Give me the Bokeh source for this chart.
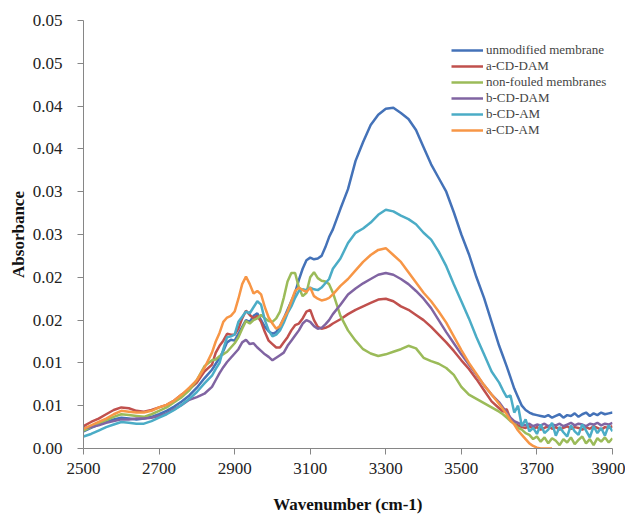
from bokeh.plotting import figure
from bokeh.models import FixedTicker, Legend, LegendItem
from bokeh.embed import file_html
from bokeh.resources import INLINE

wavenumber = [
    2500, 2520, 2540, 2560, 2580, 2600, 2620, 2640, 2660, 2680, 2700, 2720, 2740, 2760, 2780, 2800, 2820,
    2840, 2850, 2860, 2870, 2880, 2890, 2900, 2910, 2920, 2930, 2940, 2950, 2960, 2970, 2980, 2990, 3000,
    3010, 3020, 3030, 3040, 3050, 3060, 3070, 3080, 3090, 3100, 3110, 3120, 3130, 3140, 3150, 3160,
    3180, 3200, 3220, 3240, 3260, 3280, 3300, 3320, 3340, 3360, 3380, 3400, 3420, 3440, 3460, 3480, 3500,
    3520, 3540, 3560, 3580,
    3600, 3610, 3620, 3630, 3640, 3650, 3660, 3670, 3680, 3690, 3700, 3710, 3720, 3730, 3740, 3750, 3760,
    3770, 3780, 3790, 3800, 3810, 3820, 3830, 3840, 3850, 3860, 3870, 3880, 3890, 3900,
]

unmodified_membrane = [
    0.0020, 0.0024, 0.0028, 0.0031, 0.0034, 0.0036, 0.0035, 0.0034, 0.0035, 0.0037, 0.0040, 0.0044, 0.0049, 0.0055, 0.0062, 0.0071, 0.0082,
    0.0092, 0.0099, 0.0106, 0.0114, 0.0124, 0.0127, 0.0126, 0.0134, 0.0142, 0.0150, 0.0148, 0.0155, 0.0158, 0.0150, 0.0142, 0.0137, 0.0134,
    0.0136, 0.0143, 0.0152, 0.0162, 0.0172, 0.0182, 0.0197, 0.0210, 0.0220, 0.0223, 0.0221, 0.0222, 0.0225, 0.0235, 0.0247, 0.0256,
    0.0280, 0.0303, 0.0336, 0.0358, 0.0378, 0.0390, 0.0397, 0.0398, 0.0392, 0.0385, 0.0372, 0.0352, 0.0332, 0.0316, 0.0300, 0.0276, 0.0250,
    0.0227, 0.0200, 0.0176, 0.0148,
    0.0120, 0.0108, 0.0096, 0.0083, 0.0070, 0.0060, 0.0050, 0.0045, 0.0042, 0.0040, 0.0039, 0.0038, 0.0037, 0.0039, 0.0036, 0.0038, 0.0040,
    0.0036, 0.0039, 0.0038, 0.0041, 0.0037, 0.0040, 0.0042, 0.0038, 0.0041, 0.0039, 0.0042, 0.0040, 0.0041, 0.0042,
]

a_cd_dam = [
    0.0026, 0.0031, 0.0035, 0.0040, 0.0045, 0.0048, 0.0047, 0.0044, 0.0043, 0.0045, 0.0048, 0.0051, 0.0056, 0.0063, 0.0069, 0.0077, 0.0090,
    0.0098, 0.0112, 0.0120, 0.0126, 0.0134, 0.0133, 0.0133, 0.0140, 0.0152, 0.0161, 0.0156, 0.0152, 0.0155, 0.0148, 0.0136, 0.0126, 0.0122,
    0.0118, 0.0118, 0.0124, 0.0130, 0.0138, 0.0144, 0.0146, 0.0152, 0.0160, 0.0162, 0.0150, 0.0142, 0.0140, 0.0141, 0.0143, 0.0146,
    0.0151, 0.0157, 0.0162, 0.0166, 0.0170, 0.0174, 0.0175, 0.0172, 0.0166, 0.0162, 0.0156, 0.0150, 0.0142, 0.0133, 0.0124, 0.0114, 0.0103,
    0.0093, 0.0081, 0.0068, 0.0055,
    0.0047, 0.0043, 0.0046, 0.0034, 0.0029, 0.0027, 0.0025, 0.0024, 0.0026, 0.0023, 0.0025, 0.0022, 0.0024, 0.0026, 0.0023, 0.0025, 0.0022,
    0.0024, 0.0026, 0.0023, 0.0025, 0.0024, 0.0022, 0.0025, 0.0023, 0.0026, 0.0024, 0.0022, 0.0025, 0.0024, 0.0026,
]

non_fouled = [
    0.0021, 0.0025, 0.0029, 0.0033, 0.0037, 0.0040, 0.0039, 0.0038, 0.0037, 0.0040, 0.0044, 0.0048, 0.0054, 0.0060, 0.0068, 0.0080, 0.0096,
    0.0103, 0.0104, 0.0108, 0.0110, 0.0113, 0.0118, 0.0123, 0.0130, 0.0140, 0.0149, 0.0146, 0.0150, 0.0152, 0.0156, 0.0152, 0.0149, 0.0148,
    0.0152, 0.0160, 0.0176, 0.0195, 0.0205, 0.0205, 0.0188, 0.0178, 0.0182, 0.0200, 0.0206, 0.0199, 0.0196, 0.0195, 0.0192, 0.0182,
    0.0155, 0.0138, 0.0126, 0.0116, 0.0111, 0.0108, 0.0110, 0.0113, 0.0116, 0.0120, 0.0117, 0.0106, 0.0102, 0.0099, 0.0094, 0.0086, 0.0072,
    0.0063, 0.0058, 0.0053, 0.0048,
    0.0043, 0.0040, 0.0036, 0.0032, 0.0029, 0.0024, 0.0022, 0.0018, 0.0016, 0.0011, 0.0014, 0.0008, 0.0013, 0.0006, 0.0012, 0.0009, 0.0004,
    0.0011, 0.0007, 0.0013, 0.0005, 0.0010, 0.0014, 0.0006, 0.0011, 0.0004, 0.0012, 0.0008, 0.0013, 0.0007, 0.0012,
]

b_cd_dam = [
    0.0024, 0.0025, 0.0027, 0.0030, 0.0032, 0.0034, 0.0034, 0.0035, 0.0035, 0.0036, 0.0038, 0.0041, 0.0046, 0.0051, 0.0057, 0.0060, 0.0064,
    0.0072, 0.0080, 0.0088, 0.0095, 0.0101, 0.0106, 0.0111, 0.0116, 0.0124, 0.0127, 0.0122, 0.0123, 0.0118, 0.0114, 0.0110, 0.0107, 0.0103,
    0.0106, 0.0109, 0.0112, 0.0120, 0.0126, 0.0132, 0.0138, 0.0146, 0.0150, 0.0148, 0.0143, 0.0140, 0.0141, 0.0145, 0.0150, 0.0157,
    0.0168, 0.0180, 0.0187, 0.0193, 0.0198, 0.0203, 0.0205, 0.0203, 0.0198, 0.0192, 0.0184, 0.0175, 0.0164, 0.0150, 0.0136, 0.0123, 0.0110,
    0.0098, 0.0086, 0.0074, 0.0063,
    0.0054, 0.0048, 0.0042, 0.0036, 0.0032, 0.0030, 0.0028, 0.0027, 0.0029, 0.0026, 0.0028, 0.0027, 0.0029, 0.0026, 0.0028, 0.0027, 0.0029,
    0.0026, 0.0028, 0.0030, 0.0027, 0.0029, 0.0028, 0.0026, 0.0029, 0.0028, 0.0030, 0.0027, 0.0029, 0.0028, 0.0030,
]

b_cd_am = [
    0.0014, 0.0017, 0.0021, 0.0025, 0.0028, 0.0031, 0.0030, 0.0029, 0.0029, 0.0032, 0.0036, 0.0040, 0.0045, 0.0051, 0.0058, 0.0066, 0.0076,
    0.0085, 0.0093, 0.0100, 0.0116, 0.0130, 0.0131, 0.0133, 0.0148, 0.0154, 0.0160, 0.0158, 0.0165, 0.0172, 0.0168, 0.0150, 0.0138, 0.0131,
    0.0133, 0.0138, 0.0147, 0.0158, 0.0166, 0.0176, 0.0184, 0.0186, 0.0185, 0.0188, 0.0186, 0.0185, 0.0188, 0.0193, 0.0198, 0.0210,
    0.0222, 0.0240, 0.0252, 0.0257, 0.0264, 0.0273, 0.0279, 0.0277, 0.0272, 0.0268, 0.0262, 0.0252, 0.0244, 0.0230, 0.0213, 0.0192, 0.0172,
    0.0152, 0.0130, 0.0110, 0.0090,
    0.0077, 0.0068, 0.0060, 0.0062, 0.0042, 0.0050, 0.0026, 0.0034, 0.0020, 0.0024, 0.0017, 0.0028, 0.0018, 0.0022, 0.0030, 0.0015, 0.0025,
    0.0019, 0.0014, 0.0027, 0.0020, 0.0016, 0.0028, 0.0021, 0.0013, 0.0026, 0.0018, 0.0024, 0.0015, 0.0027, 0.0020,
]

nan = float("nan")
a_cd_am = [
    0.0023, 0.0027, 0.0031, 0.0035, 0.0040, 0.0044, 0.0043, 0.0042, 0.0042, 0.0044, 0.0048, 0.0051, 0.0056, 0.0063, 0.0071, 0.0080, 0.0094,
    0.0112, 0.0125, 0.0135, 0.0148, 0.0153, 0.0155, 0.0160, 0.0175, 0.0192, 0.0201, 0.0192, 0.0181, 0.0184, 0.0180, 0.0165, 0.0153, 0.0146,
    0.0140, 0.0143, 0.0152, 0.0160, 0.0172, 0.0184, 0.0188, 0.0185, 0.0183, 0.0188, 0.0178, 0.0175, 0.0173, 0.0174, 0.0176, 0.0180,
    0.0190, 0.0198, 0.0208, 0.0218, 0.0226, 0.0232, 0.0234, 0.0226, 0.0218, 0.0206, 0.0194, 0.0182, 0.0172, 0.0160, 0.0147, 0.0131, 0.0115,
    0.0100, 0.0087, 0.0074, 0.0063,
    0.0052, 0.0046, 0.0040, 0.0033, 0.0028, 0.0021, 0.0016, 0.0011, 0.0006, 0.0003, 0.0001, 0.0000, 0.0000, 0.0000, 0.0000, nan, nan,
    nan, nan, nan, nan, nan, nan, nan, nan, nan, nan, nan, nan, nan, nan,
]

series_names = ["unmodified membrane", "a-CD-DAM", "non-fouled membranes", "b-CD-DAM", "b-CD-AM", "a-CD-AM"]
series_values = [unmodified_membrane, a_cd_dam, non_fouled, b_cd_dam, b_cd_am, a_cd_am]
series_colors = ["#4472B8", "#C0504D", "#9BBB59", "#8064A2", "#4BACC6", "#F79646"]

y_ticks = [0.0, 0.005, 0.01, 0.015, 0.02, 0.025, 0.03, 0.035, 0.04, 0.045, 0.05]
y_tick_labels = ["0.00", "0.01", "0.01", "0.02", "0.02", "0.03", "0.03", "0.04", "0.04", "0.05", "0.05"]
x_ticks = [2500, 2700, 2900, 3100, 3300, 3500, 3700, 3900]

FONT = "Liberation Serif"

p = figure(width=625, height=520, output_backend="svg", toolbar_location=None,
           x_range=(2500, 3900), y_range=(0, 0.05),
           min_border_left=83, min_border_right=13, min_border_top=20, min_border_bottom=72)
p.outline_line_color = None
p.grid.visible = False
p.background_fill_color = "white"

items = []
for name, vals, col in zip(series_names, series_values, series_colors):
    r = p.line(wavenumber, vals, line_color=col, line_width=2.5)
    items.append(LegendItem(label=name, renderers=[r]))

for ax in (p.xaxis[0], p.yaxis[0]):
    ax.axis_line_color = "#868686"
    ax.major_tick_line_color = "#868686"
    ax.minor_tick_line_color = None
    ax.major_tick_in = 0
    ax.major_tick_out = 6
    ax.major_label_text_font = FONT
    ax.major_label_text_font_size = "17px"
    ax.major_label_text_color = "#222222"
    ax.axis_label_text_font = FONT
    ax.axis_label_text_font_size = "17px"
    ax.axis_label_text_font_style = "bold"
    ax.axis_label_text_color = "#111111"

p.xaxis[0].ticker = FixedTicker(ticks=x_ticks)
p.xaxis[0].axis_label = "Wavenumber (cm-1)"
p.xaxis[0].major_label_standoff = 8
p.xaxis[0].axis_label_standoff = 18

p.yaxis[0].ticker = FixedTicker(ticks=y_ticks)
p.yaxis[0].major_label_overrides = {t: s for t, s in zip(y_ticks, y_tick_labels)}
p.yaxis[0].axis_label = "Absorbance"
p.yaxis[0].major_label_standoff = 15
p.yaxis[0].axis_label_standoff = 2

legend = Legend(items=items, location=(368, 310), border_line_color=None,
                background_fill_alpha=0, label_text_font=FONT, label_text_font_size="13px",
                label_height=16, glyph_height=16, glyph_width=32, spacing=0, padding=2,
                label_standoff=3, margin=0)
p.add_layout(legend, "center")

open("out.html", "w").write(file_html(p, INLINE))
